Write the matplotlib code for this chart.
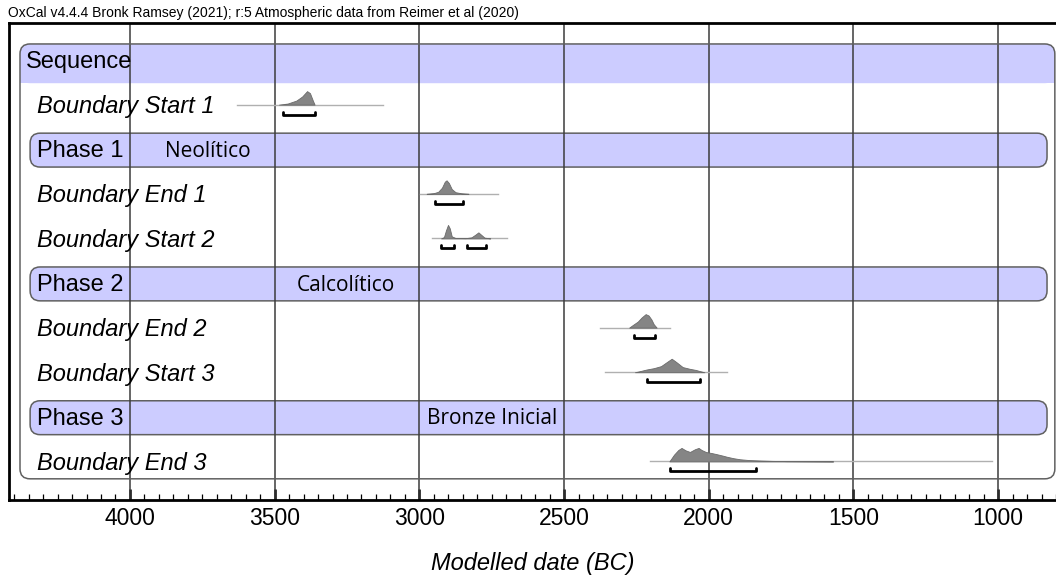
import matplotlib
matplotlib.use("Agg")
import matplotlib.pyplot as plt
from matplotlib.patches import FancyBboxPatch, Rectangle
from matplotlib.ticker import MultipleLocator

# ---- model rows (top to bottom) ----
rows = ['Sequence', 'Boundary Start 1', 'Phase 1', 'Boundary End 1', 'Boundary Start 2',
        'Phase 2', 'Boundary End 2', 'Boundary Start 3', 'Phase 3', 'Boundary End 3']
phase_names = {'Phase 1': 'Neolítico', 'Phase 2': 'Calcolítico', 'Phase 3': 'Bronze Inicial'}
phase_note_x = {'Phase 1': 3730, 'Phase 2': 3254, 'Phase 3': 2749}

# prior range line for each boundary (BC)
prior_range = {
    'Boundary Start 1': (3631, 3127),
    'Boundary End 1': (2998, 2728),
    'Boundary Start 2': (2958, 2698),
    'Boundary End 2': (2376, 2134),
    'Boundary Start 3': (2359, 1938),
    'Boundary End 3': (2203, 1022),
}

# posterior densities: (year BC, relative height)
posterior = {
    'Boundary Start 1': [(3485, 0), (3455, 0.08), (3425, 0.3), (3405, 0.6), (3388, 1.0),
                         (3378, 0.85), (3368, 0.3), (3362, 0)],
    'Boundary End 1': [(2975, 0), (2950, 0.05), (2935, 0.15), (2922, 0.45), (2912, 0.9),
                       (2906, 1.0), (2898, 0.8), (2888, 0.35), (2875, 0.12), (2855, 0.04),
                       (2830, 0)],
    'Boundary Start 2': [(2925, 0), (2915, 0.1), (2908, 0.6), (2901, 1.0), (2895, 0.75),
                         (2888, 0.15), (2875, 0.03), (2840, 0.02), (2820, 0.08), (2805, 0.3),
                         (2796, 0.45), (2788, 0.3), (2775, 0.06), (2755, 0)],
    'Boundary End 2': [(2275, 0), (2262, 0.2), (2245, 0.45), (2232, 0.75), (2218, 1.0),
                       (2208, 0.9), (2198, 0.6), (2190, 0.25), (2180, 0)],
    'Boundary Start 3': [(2255, 0), (2240, 0.07), (2215, 0.2), (2190, 0.3), (2165, 0.45),
                         (2145, 0.75), (2128, 1.0), (2112, 0.75), (2090, 0.38), (2065, 0.25),
                         (2045, 0.17), (2030, 0.08), (2015, 0)],
    'Boundary End 3': [(2136, 0), (2120, 0.5), (2105, 0.85), (2094, 1.0), (2080, 0.82),
                       (2065, 0.7), (2048, 0.9), (2035, 1.0), (2025, 0.85), (2010, 0.7),
                       (1990, 0.62), (1973, 0.54), (1950, 0.42), (1938, 0.35), (1915, 0.24),
                       (1892, 0.16), (1860, 0.1), (1823, 0.07), (1780, 0.04), (1731, 0.02),
                       (1650, 0.01), (1570, 0)],
}

# 95.4% ranges (may be split)
hpd_ranges = {
    'Boundary Start 1': [(3472, 3361)],
    'Boundary End 1': [(2946, 2848)],
    'Boundary Start 2': [(2926, 2879), (2837, 2770)],
    'Boundary End 2': [(2257, 2184)],
    'Boundary Start 3': [(2215, 2030)],
    'Boundary End 3': [(2134, 1837)],
}

W, H = 1056, 578
fig = plt.figure(figsize=(W / 100, H / 100), dpi=100)
ax = fig.add_axes([9 / W, 1 - 500 / H, 1 - 9 / W, (500 - 23) / H])

x_left, x_right = 4418, 800
y_top, y_bot = -0.83, 9.865
ax.set_xlim(x_left, x_right)
ax.set_ylim(y_bot, y_top)

# unit sizes of one pixel, used for rounded corners and small offsets
yr_px = (x_left - x_right) / (W - 9)
row_px = (y_bot - y_top) / (500 - 23)
rnd = 10
aspect = (rnd * row_px) / (rnd * yr_px)
txt_dy = 2 * row_px

lavender = '#ccccff'
edge = '#606060'
font = ['Liberation Sans', 'DejaVu Sans']

# outer sequence box
seq_x0, seq_x1 = 804, 4380
seq_top, seq_bot = -0.36, 9.39
box_style = f"round,pad=0,rounding_size={rnd * yr_px}"
ax.add_patch(FancyBboxPatch((seq_x0, seq_top), seq_x1 - seq_x0, seq_bot - seq_top,
                            boxstyle=box_style, mutation_aspect=aspect,
                            facecolor='white', edgecolor='none', zorder=0.5))
hdr_bot = 0.52
ax.add_patch(FancyBboxPatch((seq_x0, seq_top), seq_x1 - seq_x0, hdr_bot - seq_top,
                            boxstyle=box_style, mutation_aspect=aspect,
                            facecolor=lavender, edgecolor='none', zorder=1))
ax.add_patch(Rectangle((seq_x0, 0.1), seq_x1 - seq_x0, hdr_bot - 0.1,
                       facecolor=lavender, edgecolor='none', zorder=1))
ax.add_patch(FancyBboxPatch((seq_x0, seq_top), seq_x1 - seq_x0, seq_bot - seq_top,
                            boxstyle=box_style, mutation_aspect=aspect,
                            facecolor='none', edgecolor=edge, linewidth=1.1, zorder=2.5))

ph_x0, ph_x1 = 831, 4345
half_h = 0.38
label_x = 4321

for i, name in enumerate(rows):
    if name == 'Sequence':
        ax.text(4359, i + txt_dy, name, fontsize=17, family=font, va='center', ha='left', zorder=4)
    elif name.startswith('Phase'):
        ax.add_patch(FancyBboxPatch((ph_x0, i - half_h + 0.02), ph_x1 - ph_x0, 2 * half_h,
                                    boxstyle=box_style, mutation_aspect=aspect,
                                    facecolor=lavender, edgecolor=edge, linewidth=1.1, zorder=1))
        ax.text(label_x, i + txt_dy, name, fontsize=17, family=font, va='center', ha='left', zorder=4)
        ax.text(phase_note_x[name], i + txt_dy, phase_names[name], fontsize=15,
                family=['Open Sans', 'DejaVu Sans'], va='center', ha='center', zorder=4)
    else:
        ax.text(label_x, i + txt_dy, name, fontsize=17, family=font, style='italic',
                va='center', ha='left', zorder=4)
        a, b = prior_range[name]
        ax.plot([a, b], [i, i], color='#b0b0b0', linewidth=1.0, zorder=3)
        xs = [p[0] for p in posterior[name]]
        hs = [i - p[1] * 13.5 * row_px for p in posterior[name]]
        ax.fill_between(xs, i, hs, facecolor='#858585', edgecolor='#6a6a6a',
                        linewidth=0.6, zorder=3.2)
        yb = i + 10 * row_px
        tick = 3 * row_px
        for a, b in hpd_ranges[name]:
            ax.plot([a, a, b, b], [yb - tick, yb, yb, yb - tick], color='black',
                    linewidth=2.0, solid_joinstyle='round', solid_capstyle='round', zorder=3.5)

# vertical grid every 500 years
for g in range(1000, 4001, 500):
    ax.axvline(g, color='#3c3c3c', linewidth=1.1, zorder=2)

ax.xaxis.set_major_locator(MultipleLocator(500))
ax.xaxis.set_minor_locator(MultipleLocator(50))
ax.set_yticks([])
ax.tick_params(axis='x', which='major', direction='in', length=8, width=1.8,
               labelsize=16.5, pad=5)
ax.tick_params(axis='x', which='minor', direction='in', length=4, width=0.9)
for lab in ax.get_xticklabels():
    lab.set_family(font)

for side in ['left', 'top', 'bottom']:
    ax.spines[side].set_linewidth(2.0)
ax.spines['right'].set_visible(False)

ax.set_xlabel('Modelled date (BC)', fontsize=17, family=font, style='italic', labelpad=16)

fig.text(8 / W, 1 - 13 / H,
         'OxCal v4.4.4 Bronk Ramsey (2021); r:5 Atmospheric data from Reimer et al (2020)',
         fontsize=10, family=font, va='center', ha='left')

fig.savefig('out.png', dpi=100)
